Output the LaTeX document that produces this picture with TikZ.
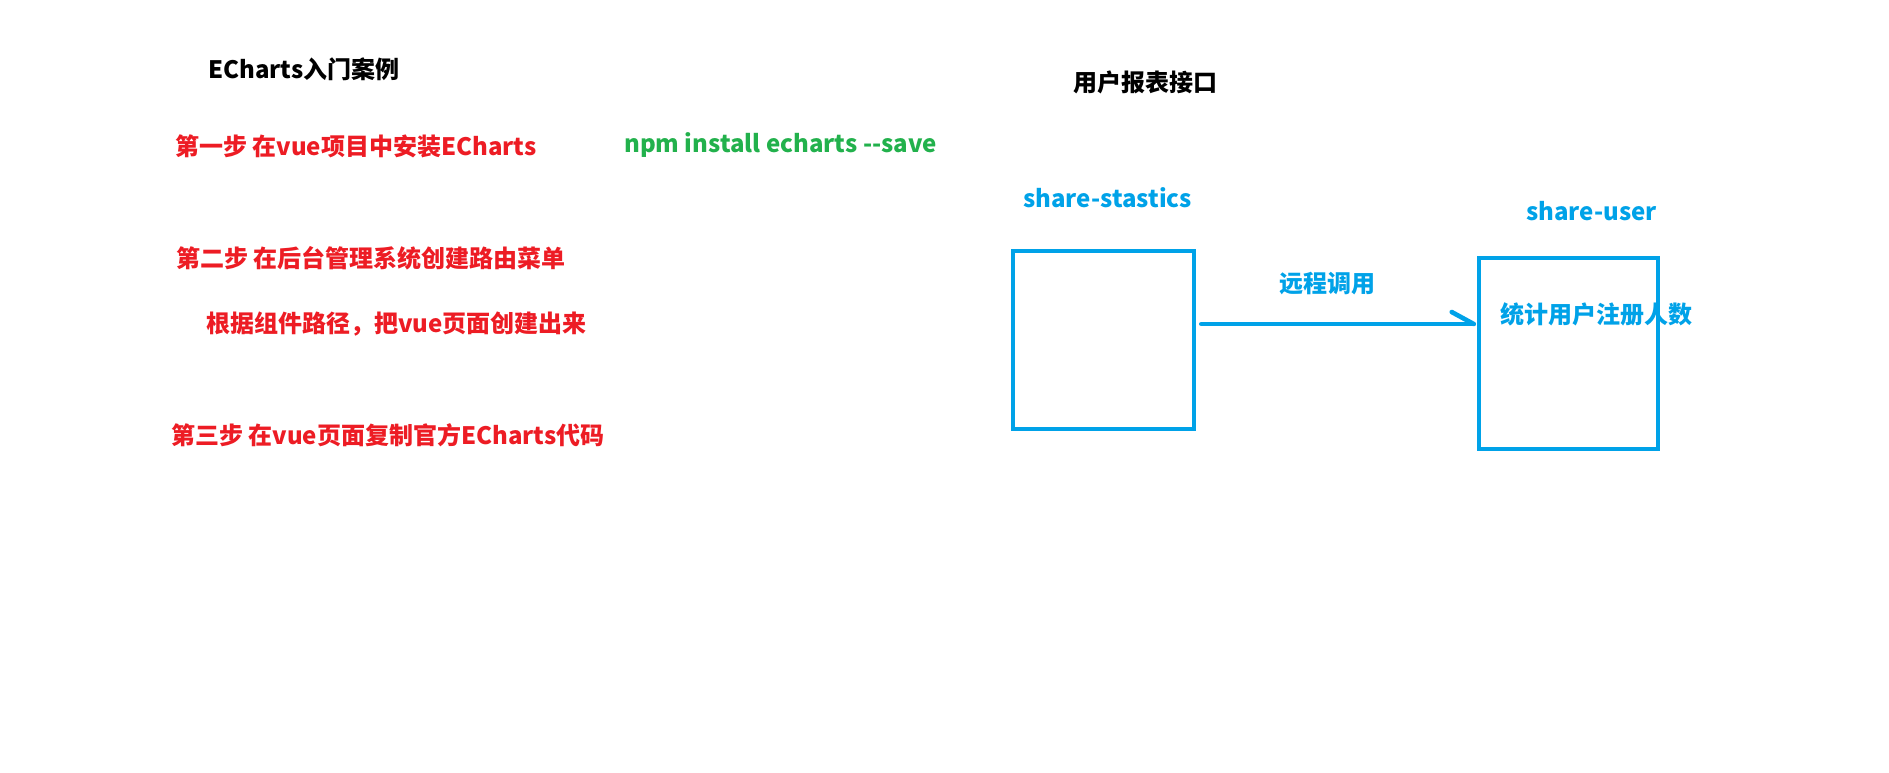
\documentclass[tikz,border=0pt]{standalone}
\usepackage{fontspec}
\setmainfont{Noto Sans CJK SC}
\definecolor{pred}{RGB}{237,28,36}
\definecolor{pgreen}{RGB}{34,177,76}
\definecolor{pblue}{RGB}{0,162,232}
\tikzset{
  txt/.style={anchor=west, inner sep=0pt, font=\fontsize{24}{28}\selectfont\bfseries},
  redtxt/.style={txt, text=pred},
  bluetxt/.style={txt, text=pblue},
  boxnode/.style={draw=pblue, line width=4.6pt, inner sep=0pt},
  conn/.style={draw=pblue, line width=4.6pt, line cap=round}
}
\begin{document}
\begin{tikzpicture}[x=1pt, y=-1pt]
\useasboundingbox[fill=white] (0,0) rectangle (1889,773);
\node[txt] (title1) at (208,69) {ECharts入门案例};
\node[redtxt] (s1) at (175,146) {第一步 在vue项目中安装ECharts};
\node[txt, text=pgreen] (npm) at (624,145) {npm install echarts -{}-save};
\node[redtxt] (s2) at (176,258) {第二步 在后台管理系统创建路由菜单};
\node[redtxt] (s2b) at (206,324) {根据组件路径，把vue页面创建出来};
\node[redtxt] (s3) at (171,435) {第三步 在vue页面复制官方ECharts代码};
\node[txt] (title2) at (1073,82) {用户报表接口};
\node[bluetxt] (lbl1) at (1023,198) {share-stastics};
\node[bluetxt] (lbl2) at (1526,211) {share-user};
\node[boxnode, minimum width=181pt, minimum height=178pt] (left) at (1103.5,340) {};
\node[boxnode, minimum width=179pt, minimum height=191pt] (right) at (1568.5,353.5) {};
\node[bluetxt] (call) at (1279,284) {远程调用};
\node[bluetxt] (stat) at (1500,314) {统计用户注册人数};
\coordinate (ay) at (0,324);
\coordinate (astart) at ([xshift=5pt]left.east |- ay);
\coordinate (aend) at ([xshift=-3pt]right.west |- ay);
\draw[conn] (astart) -- (aend);
\draw[conn] (aend) -- ++(-22,-12);
\end{tikzpicture}
\end{document}
